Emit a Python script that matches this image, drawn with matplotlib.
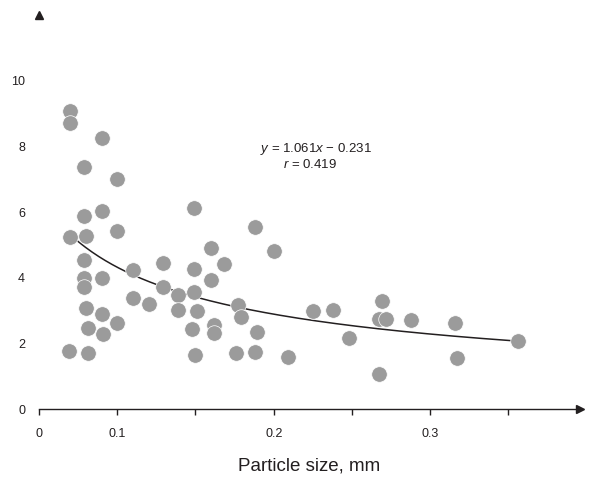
import numpy as np
import matplotlib.pyplot as plt

plt.rcParams['font.family'] = ['Liberation Sans', 'DejaVu Sans']
plt.rcParams['mathtext.fontset'] = 'custom'
plt.rcParams['mathtext.it'] = 'Liberation Sans:italic'
plt.rcParams['mathtext.rm'] = 'Liberation Sans'

particle_size = [0.070, 0.070, 0.090, 0.079, 0.100, 0.090, 0.079, 0.070, 0.080, 0.100,
                 0.079, 0.079, 0.090, 0.079, 0.110, 0.110, 0.080, 0.090, 0.081, 0.100,
                 0.091, 0.069, 0.081, 0.120, 0.129, 0.129, 0.139, 0.139, 0.149, 0.149,
                 0.149, 0.151, 0.148, 0.150, 0.160, 0.160, 0.162, 0.162, 0.168, 0.177,
                 0.179, 0.176, 0.188, 0.200, 0.189, 0.188, 0.209, 0.225, 0.238, 0.248,
                 0.269, 0.267, 0.272, 0.288, 0.267, 0.316, 0.317, 0.356]
values = [9.09, 8.71, 8.27, 7.38, 7.00, 6.02, 5.87, 5.23, 5.28, 5.41,
          4.55, 3.98, 3.98, 3.73, 4.24, 3.39, 3.09, 2.89, 2.48, 2.63,
          2.28, 1.78, 1.70, 3.21, 4.46, 3.72, 3.48, 3.02, 6.12, 4.28,
          3.55, 2.99, 2.43, 1.63, 4.92, 3.93, 2.56, 2.31, 4.43, 3.18,
          2.80, 1.72, 5.54, 4.80, 2.36, 1.73, 1.59, 2.99, 3.01, 2.17,
          3.30, 2.73, 2.73, 2.71, 1.07, 2.61, 1.56, 2.06]

# trend curve (power law)
trend_a = 1.136
trend_b = -0.58
trend_range = (0.074, 0.356)

xticks = [0.05, 0.1, 0.2, 0.3]
xtick_labels = ['0', '0.1', '0.2', '0.3']
xminor = [0.15, 0.25, 0.35]
yticks = [0, 2, 4, 6, 8, 10]

dark = '#231f20'

fig = plt.figure(figsize=(5.89, 4.78), dpi=100)
ax = fig.add_axes([39 / 589, 69 / 478, 541 / 589, 0.824])

xs = np.linspace(trend_range[0], trend_range[1], 200)
ax.plot(xs, trend_a * xs ** trend_b, color=dark, lw=1.1, zorder=2)
ax.scatter(particle_size, values, s=125, color='#9b9b9b', edgecolors='white',
           linewidths=0.5, zorder=3)

ax.set_xlim(0.05, 0.3957)
ax.set_ylim(0, 12)

for side in ['left', 'top', 'right']:
    ax.spines[side].set_visible(False)
ax.spines['bottom'].set_color(dark)
ax.spines['bottom'].set_linewidth(1)

ax.set_xticks(xticks)
ax.set_xticklabels(xtick_labels)
ax.set_xticks(xminor, minor=True)
ax.tick_params(axis='x', which='both', direction='out', length=4, width=1,
               color=dark, labelsize=9, pad=10, labelcolor=dark)
ax.set_yticks(yticks)
ax.tick_params(axis='y', length=0, labelsize=9, pad=10, labelcolor=dark)

# arrow heads
ax.plot(1, 0, marker='>', color=dark, markersize=6, transform=ax.transAxes, clip_on=False)
ax.plot(0, 1, marker='^', color=dark, markersize=6, transform=ax.transAxes, clip_on=False)

ax.set_xlabel('Particle size, mm', fontsize=13.5, color=dark, labelpad=12)

ax.text(0.227, 7.93, r'$y$ = 1.061$x$ − 0.231', fontsize=9.5, ha='center', va='center', color=dark)
ax.text(0.223, 7.44, r'$r$ = 0.419', fontsize=9.5, ha='center', va='center', color=dark)

fig.savefig('out.png', dpi=100)
